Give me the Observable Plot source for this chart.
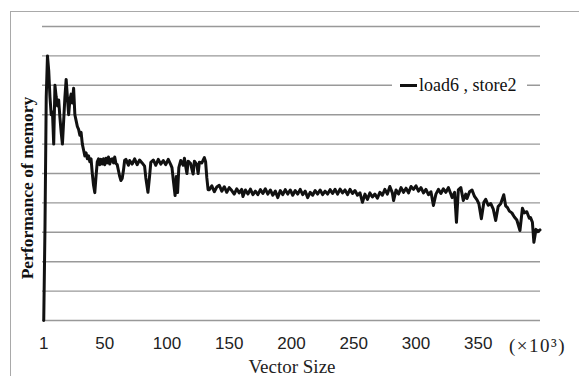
<!DOCTYPE html>
<html>
<head>
<meta charset="utf-8">
<script src="https://cdn.jsdelivr.net/npm/d3@7"></script>
<script src="https://cdn.jsdelivr.net/npm/@observablehq/plot@0.6"></script>
<style>
  html, body { margin: 0; padding: 0; background: #fff; }
  #wrap { position: relative; width: 579px; height: 376px; overflow: hidden; background: #fff; }
  #frame { position: absolute; left: 10px; top: 11px; right: -5px; bottom: -5px; border-left: 1.5px solid #a9a9a9; border-top: 1.5px solid #a9a9a9; pointer-events: none; }
  #ytitle { position: absolute; left: 27px; top: 188px; transform: translate(-50%, -50%) rotate(-90deg); white-space: nowrap; font: bold 17.5px "Liberation Serif", serif; color: #111; }
  #xtitle { position: absolute; left: 292px; top: 357px; transform: translateX(-50%); white-space: nowrap; font: 19px "Liberation Serif", serif; line-height: 1; color: #222; }
  #unit { position: absolute; left: 509px; top: 336px; white-space: nowrap; font: 19px "Liberation Serif", serif; line-height: 1; letter-spacing: 1.5px; color: #222; }
  #legend { position: absolute; left: 392px; top: 76px; width: 135px; height: 18px; background: #fff; display: flex; align-items: center; }
  #legend .sw { margin-left: 8px; width: 17px; height: 3px; background: #111; }
  #legend .lb { margin-left: 2px; font: 18px "Liberation Serif", serif; line-height: 1; color: #111; white-space: nowrap; }
</style>
</head>
<body>
<div id="wrap"></div>
<script>
// Vector size (x 10^3)
const sizes = [
  1,2,3,4,5,6,7,8,9,10, 11,12,13,14,15,16,17,18,19,20,
  21,22,23,24,25,26,27,28,29,30, 31,32,33,34,35,36,37,38,39,40,
  41,42,43,44,45,46,47,48,49,50, 51,52,53,54,55,56,57,58,59,60,
  61,62,63,64,65,66,
  67,69,70,72,74, 76,78,80,82,83, 84.7,86,87,89,91, 93,95,97,99,101,
  103,104,105,106.5,107.5, 108.5,109.5,111,113,114, 115,116,117,119,120,
  121,122,124,125,126, 128,130,131,132,133,
  134,136,138,140,142,144,146,148,150,152,
  154,156,158,160,161,163,165,167,169,171,
  173,175,177,179,181,183,185,187,189,191,
  193,195,197,199,201,203,205,207,209,211,
  213,215,217,219,221,223,225,227,229,231,
  233,235,237,239,241,243,245,247,249,251,
  253,255,257,259,261,263,265,267,269,271,
  273,275,277,279,281,282,284,286,288,290,
  292,294,296,298,300,302,304,306,308,310,
  312,314,316,318,320,322,324,326,328,329,
  331,332.5,334,336,338,340,341,343,345,347,
  349,350.5,352.5,354.5,356,358,360,362,364,366,
  368,370.5,372,373.5,375,377,379,381,383.5,385.5,
  387,389,391,392,393.5,394.7,396.4,398,399.6
];
// Performance of memory (load6 , store2)
const perf = [
  0,3.2,7.6,9.0,8.5,7.6,7.0,7.1,6.0,8.0, 7.6,7.3,7.5,6.9,6.4,6.0,6.8,7.6,8.2,7.6,
  7.0,7.5,7.7,7.4,7.9,7.0,6.8,6.6,6.5,6.3, 6.4,6.0,5.8,5.6,5.7,5.5,5.6,5.4,5.5,5.0,
  4.6,4.35,4.9,5.4,5.5,5.3,5.48,5.32,5.5,5.3, 5.52,5.36,5.56,5.32,5.48,5.5,5.36,5.56,5.34,5.3,
  5.1,4.9,4.76,4.83,5.1,5.45,
  5.48,5.28,5.44,5.32,5.50, 5.30,5.46,5.36,5.25,4.85, 4.36,4.90,5.38,5.46,5.28, 5.48,5.32,5.44,5.30,5.48,
  5.30,5.20,4.80,4.25,4.90, 4.35,5.20,5.44,5.28,5.52, 5.25,5.00,5.42,5.34,5.15,
  4.98,5.42,5.30,5.00,5.38, 5.36,5.54,5.40,4.85,4.45,
  4.45,4.58,4.38,4.54,4.60,4.40,4.55,4.36,4.52,4.42,
  4.30,4.48,4.34,4.46,4.22,4.44,4.30,4.47,4.28,4.40,
  4.28,4.45,4.32,4.48,4.30,4.44,4.26,4.40,4.18,4.42,
  4.28,4.45,4.30,4.44,4.26,4.42,4.30,4.46,4.28,4.40,
  4.18,4.36,4.26,4.42,4.30,4.44,4.28,4.40,4.30,4.45,
  4.32,4.46,4.30,4.47,4.34,4.44,4.28,4.46,4.32,4.42,
  4.26,4.34,4.02,4.30,4.12,4.34,4.20,4.30,4.16,4.36,
  4.26,4.46,4.30,4.56,4.34,4.08,4.44,4.30,4.52,4.36,
  4.50,4.34,4.56,4.46,4.58,4.40,4.52,4.34,4.46,4.28,
  4.38,3.91,4.30,4.46,4.32,4.48,4.36,4.52,4.30,4.18,
  4.36,3.34,4.44,4.52,4.08,4.30,4.15,4.38,4.44,4.22,
  4.10,3.97,3.46,4.02,4.12,3.92,3.98,3.80,3.40,3.88,
  3.97,4.28,3.90,3.84,3.72,3.66,3.52,3.42,3.06,3.82,
  3.66,3.70,3.48,3.50,3.34,2.66,3.10,3.02,3.08
];
const xTicks = [1, 50, 100, 150, 200, 250, 300, 350];
const yGrid = [0, 1, 2, 3, 4, 5, 6, 7, 8, 9, 10];
const seriesName = "load6 , store2";

const data = sizes.map((s, i) => ({size: s, perf: perf[i]}));

const chart = Plot.plot({
  width: 579,
  height: 376,
  marginLeft: 42,
  marginRight: 39,
  marginTop: 26,
  marginBottom: 56,
  style: {fontFamily: "'Liberation Sans', Arial, sans-serif", fontSize: "17px", color: "#222", background: "transparent"},
  x: {domain: [0, 400], ticks: xTicks, tickFormat: d => String(d), tickSize: 0, tickPadding: 16, label: null},
  y: {domain: [0, 10], axis: null},
  marks: [
    Plot.ruleY(yGrid, {stroke: "#999", strokeWidth: 1.4}),
    Plot.line(data, {x: "size", y: "perf", stroke: "#111", strokeWidth: 3, strokeLinejoin: "round", curve: "linear"})
  ]
});

const wrap = document.getElementById("wrap");
wrap.appendChild(chart);
wrap.insertAdjacentHTML("beforeend",
  `<div id="frame"></div>
   <div id="ytitle">Performance of memory</div>
   <div id="xtitle">Vector Size</div>
   <div id="unit">(×10³)</div>
   <div id="legend"><div class="sw"></div><div class="lb">${seriesName}</div></div>`);
</script>
</body>
</html>
